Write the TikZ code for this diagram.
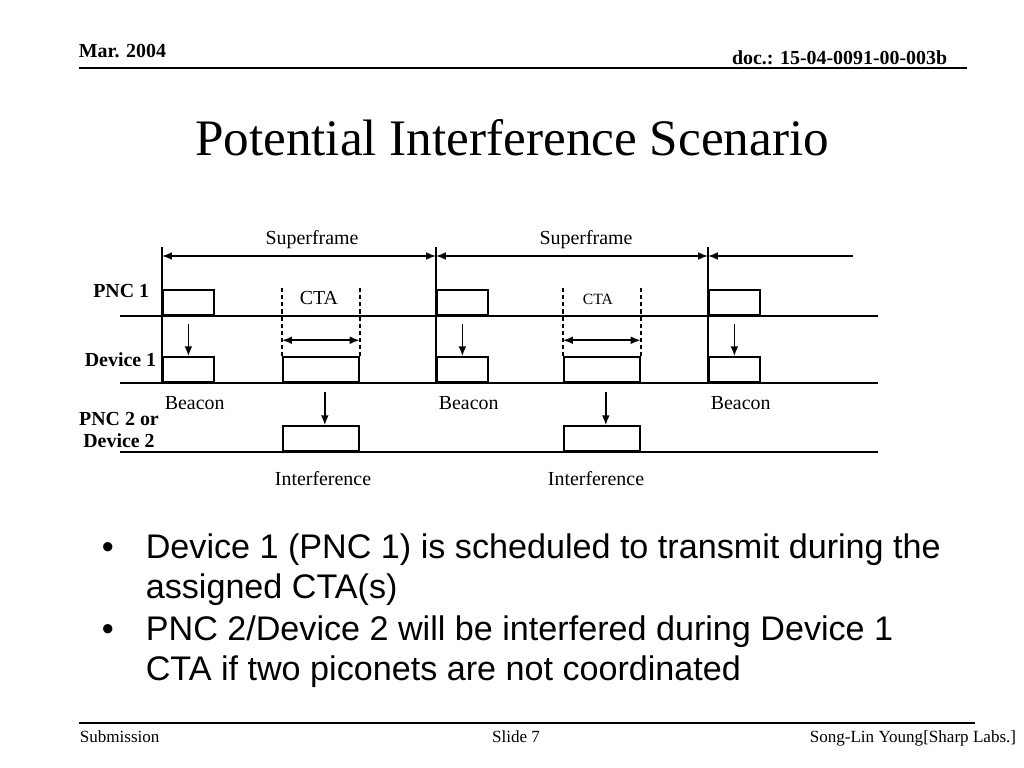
\documentclass[tikz,border=0pt]{standalone}
\usepackage{fontspec}
\setmainfont{Liberation Serif}
\newfontfamily\arialfont{Liberation Sans}
\usetikzlibrary{arrows.meta}

\tikzset{
	slot/.style={draw, inner sep=0pt, anchor=south west, minimum height=17.6pt},
	bcnslot/.style={slot, minimum width=35.9pt},
	ctaslot/.style={slot, minimum width=53.4pt},
	lbl/.style={font=\fontsize{14}{16}\selectfont, inner sep=0pt},
	rowlbl/.style={font=\fontsize{14}{16}\selectfont\bfseries, inner sep=0pt, align=center},
	bullet/.style={font=\arialfont\fontsize{24}{28}\selectfont, inner sep=0pt, anchor=base west},
	foot/.style={font=\fontsize{12}{14}\selectfont, inner sep=0pt},
}

\begin{document}
\begin{tikzpicture}[x=0.703125pt, y=-0.703125pt, line width=1.2pt, >={Latex[length=7pt,width=5.5pt]}]
	\fill[white] (0,0) rectangle (1024,768);
	\useasboundingbox (0,0) rectangle (1024,768);
	
	% header
	\node[rowlbl, anchor=base west] (date) at (78,58) {Mar. 2004};
	\node[rowlbl, anchor=base east] (docid) at (948,65) {doc.: 15-04-0091-00-003b};
	\draw[line width=1.4pt] (79,68) -- (967,68);
	
	% title
	\node[font=\fontsize{36}{40}\selectfont, inner sep=0pt] (title) at (512,138) {Potential Interference Scenario};
	
	% row labels
	\node[rowlbl, anchor=east] (pnc1) at (150,291) {PNC 1};
	\node[rowlbl, anchor=east] (dev1) at (157,360) {Device 1};
	\node[rowlbl] (pnc2) at (119,430) {PNC 2 or\\Device 2};
	
	% draw time lines
	\foreach \y in {316,383,452}{
		\draw (120,\y) -- (878,\y);
	}
	
	% draw superframe borders
	\foreach \x in {162,436,708}{
		\draw (\x,247) -- (\x,383);
	}
	\draw[<->] (162,256) -- (436,256);
	\draw[<->] (436,256) -- (708,256);
	\draw[<-] (708,256) -- (853,256);
	\node[lbl] (sf1) at (312,240) {Superframe};
	\node[lbl] (sf2) at (586,240) {Superframe};
	
	% beacons
	\foreach \x/\i in {162/1,436/2,708/3}{
		\node[bcnslot] (bcnp\i) at (\x,316) {};
		\node[bcnslot] (bcnd\i) at (\x,383) {};
		\draw[->] ([yshift=-5.6pt]bcnp\i.south) -- (bcnd\i.north);
		\node[lbl, anchor=west] (bcnlbl\i) at (\x+2,403) {Beacon};
	}
	
	% CTAs and interference
	\foreach \x/\i/\lx in {282/1/323,563/2/596}{
		\node[ctaslot] (ctad\i) at (\x,383) {};
		\node[ctaslot] (intf\i) at (\x,452) {};
		\draw[dash pattern=on 3pt off 2pt] (ctad\i.north west) -- ++(0,-68);
		\draw[dash pattern=on 3pt off 2pt] (ctad\i.north east) -- ++(0,-68);
		\draw[<->] ([yshift=11.25pt]ctad\i.north west) -- ([yshift=11.25pt]ctad\i.north east);
		\draw[->] ([yshift=-6.3pt,xshift=2.8pt]ctad\i.south) -- ([xshift=2.8pt]intf\i.north);
		\node[lbl] (intlbl\i) at (\lx,479) {Interference};
	}
	\node[lbl] (cta1) at (319,298) {CTA};
	\node[lbl, font=\fontsize{11}{13}\selectfont] (cta2) at (598,299) {CTA};
	
	% bullets
	\node[bullet] (dot1) at (101,558) {•};
	\node[bullet] (item1a) at (145,558) {Device 1 (PNC 1) is scheduled to transmit during the};
	\node[bullet] (item1b) at (145,598) {assigned CTA(s)};
	\node[bullet] (dot2) at (101,640) {•};
	\node[bullet] (item2a) at (145,640) {PNC 2/Device 2 will be interfered during Device 1};
	\node[bullet] (item2b) at (145,680) {CTA if two piconets are not coordinated};
	
	% footer
	\draw[line width=1.4pt] (79,723) -- (975,723);
	\node[foot, anchor=base west] (sub) at (79,742) {Submission};
	\node[foot, anchor=base] (slide) at (516,742) {Slide 7};
	\node[foot, anchor=base east] (auth) at (1017,742) {Song-Lin Young[Sharp Labs.]};
\end{tikzpicture}
\end{document}
